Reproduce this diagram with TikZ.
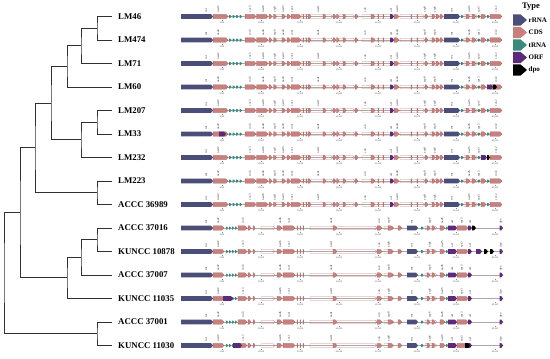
\documentclass[tikz,border=0pt]{standalone}
\usepackage{fontspec}
\setmainfont{Liberation Serif}
\definecolor{rrnaC}{HTML}{4A4E78}
\definecolor{cdsC}{HTML}{C97F7C}
\definecolor{trnaC}{HTML}{3A8A7C}
\definecolor{orfC}{HTML}{5B2A7A}
\definecolor{treeC}{HTML}{303030}
\definecolor{baseC}{HTML}{A8A8A8}
\tikzset{
  fR/.style={fill=rrnaC},
  fC/.style={fill=cdsC, draw=cdsC!75!black, line width=0.15pt},
  fT/.style={fill=trnaC},
  fO/.style={fill=orfC},
  fD/.style={fill=black},
  fI/.style={draw=cdsC, line width=0.3pt},
  branch/.style={draw=treeC, line width=0.9pt},
  leaflab/.style={anchor=west, inner sep=0pt, font=\fontsize{8.8}{10}\selectfont\bfseries},
  glabel/.style={rotate=90, anchor=west, inner sep=0pt, font=\fontsize{3}{3.2}\selectfont, text=black!85},
  ticklab/.style={inner sep=0pt, font=\fontsize{2.3}{2.5}\selectfont, text=black!70},
  leglab/.style={anchor=west, inner sep=0pt, font=\fontsize{7}{8}\selectfont\bfseries},
}
\def\hR{2.4}\def\hC{2.2}\def\hT{1.5}\def\hO{2.4}\def\hD{2.4}\def\hI{1.8}
\newcommand\drawfeats[1]{%
  \foreach \t/\a/\b in #1 {%
    \pgfmathsetmacro\tp{min(2,0.5*(\b-\a))}%
    \pgfmathsetmacro\hh{\csname h\t\endcsname}%
    \path[f\t] (\a,-\hh) -- ({\b-\tp},-\hh) -- (\b,0) -- ({\b-\tp},\hh) -- (\a,\hh) -- cycle;
  }}
\def\featA{R/0/32, C/32/47, T/48/50.5, T/51.5/54, T/55/57.5, T/58.5/61, C/64/75, C/75.5/87, C/88/91, C/92.5/95.5, I/95/105, C/101/104, C/106/109.5, C/110/120, I/120/152, C/122/123, C/125/126, C/127/130, C/142/145, C/152/155, C/155.5/158, I/158/174, C/162/165, C/174/177, I/181/211, C/190/194, C/197/198, C/202/203, O/209/213, C/213/218, I/219/244, C/230/231, C/236/237, C/244/247, I/249/259, C/251/254, C/255/258, C/259/262, R/263/279, T/280/282.5, I/283/297, C/285/289, C/291/295, T/297/299.5, C/300/305, T/306/308.5, C/309/321}
\def\labA{25/rnl, 37/nad2, 69/cox3, 82/nad6, 94/atp9, 102/nad3, 111/cox1, 137/nad1, 184/cob, 210/orf, 216/nad4, 244/atp8, 254/atp6, 271/rns, 288/nad5, 298/rps3, 315/cox2}
\def\featB{R/0/32, C/32/43, T/45/47, T/48/50, T/51/53, T/54/56, C/57/66, C/67/70, C/72/74, I/80/94, C/96/101, C/102/114, C/116/117, C/119/120, C/122/123, I/129/196, C/152/156, C/196/201, I/203/213, C/207/212, C/217/221, R/226/237, T/240/242.5, I/244/256, C/246/249, C/251/254, C/259/264, T/265/267, O/267/276, C/276/287, O/287/291, O/318.5/322}
\def\labB{25/rnl, 37/nad2, 62/cox3, 99/nad6, 108/cox1, 150/nad1, 198/cob, 208/atp8, 231/rns, 249/atp6, 261/nad5, 271/orf, 281/rps3, 289/orf, 320/dpo}
\newcommand\generow[5]{% id, y, features, labels, length
  \begin{scope}[shift={(181,#2)}]
    \draw[baseC, line width=0.7pt] (0,0) -- (#5,0);
    \drawfeats{#3}
    \foreach \p/\n [count=\k] in #4 {\node[glabel] (r#1g\k) at (\p,-4.2) {\n};}
    \foreach \k/\lab in {0/5000, 1/10{,}000, 2/15{,}000, 3/20{,}000, 4/25{,}000, 5/30{,}000, 6/35{,}000, 7/40{,}000} {
      \draw[black!45, line width=0.2pt] ({41+39*\k},3.6) -- ({41+39*\k},4.6);
      \node[ticklab] (r#1t\k) at ({41+39*\k},6.6) {\lab};
    }
  \end{scope}}
\newcommand\extras[2]{\begin{scope}[shift={(181,#1)}]\drawfeats{#2}\end{scope}}
\begin{document}
\begin{tikzpicture}[x=1pt,y=-1pt]
\useasboundingbox (0,0) rectangle (550,359);
% leaves
\foreach \i/\nm in {0/LM46, 1/LM474, 2/LM71, 3/LM60, 4/LM207, 5/LM33, 6/LM232, 7/LM223, 8/ACCC 36989, 9/ACCC 37016, 10/KUNCC 10878, 11/ACCC 37007, 12/KUNCC 11035, 13/ACCC 37001, 14/KUNCC 11030}{
  \coordinate (l\i) at (112,{16.5+23.5*\i});
  \node[leaflab] (name\i) at (118,{16.5+23.5*\i}) {\nm};
}
% internal nodes
\coordinate (n1) at (97,28.25);
\coordinate (n2) at (81,45.9);
\coordinate (n3) at (67,66.4);
\coordinate (n4) at (97,122.25);
\coordinate (n5) at (81,139.9);
\coordinate (n6) at (51,103.1);
\coordinate (n7) at (97,192.75);
\coordinate (n8) at (35,147.9);
\coordinate (n9) at (97,239.75);
\coordinate (n10) at (81,257.4);
\coordinate (n11) at (67,277.9);
\coordinate (n12) at (20,212.9);
\coordinate (n13) at (97,333.75);
\coordinate (root) at (4,273.3);
\draw[branch] (l0) -| (n1) |- (l1);
\draw[branch] (n1) -| (n2) |- (l2);
\draw[branch] (n2) -| (n3) |- (l3);
\draw[branch] (l4) -| (n4) |- (l5);
\draw[branch] (n4) -| (n5) |- (l6);
\draw[branch] (n3) -| (n6) |- (n5);
\draw[branch] (l7) -| (n7) |- (l8);
\draw[branch] (n6) -| (n8) |- (n7);
\draw[branch] (l9) -| (n9) |- (l10);
\draw[branch] (n9) -| (n10) |- (l11);
\draw[branch] (n10) -| (n11) |- (l12);
\draw[branch] (n8) -| (n12) |- (n11);
\draw[branch] (l13) -| (n13) |- (l14);
\draw[branch] (n12) -| (root) |- (n13);
% genome tracks
\generow{1}{16.5}{\featA}{\labA}{321}
\generow{2}{40}{\featA}{\labA}{321}
\generow{3}{63.5}{\featA}{\labA}{321}
\generow{4}{87}{\featA}{\labA}{321}
\extras{87}{{O/306/312, D/312/316}}
\generow{5}{110.5}{\featA}{\labA}{321}
\generow{6}{134}{\featA}{\labA}{321}
\extras{134}{{O/38/45}}
\generow{7}{157.5}{\featA}{\labA}{321}
\extras{157.5}{{O/300/306, D/306/309}}
\generow{8}{181}{\featA}{\labA}{321}
\generow{9}{204.5}{\featA}{\labA}{321}
\generow{10}{228}{\featB}{\labB}{322}
\extras{228}{{D/291/295}}
\generow{11}{251.5}{\featB}{\labB}{322}
\extras{251.5}{{O/295/301, D/303/307, D/309/313}}
\generow{12}{275}{\featB}{\labB}{322}
\generow{13}{298.5}{\featB}{\labB}{322}
\extras{298.5}{{O/42/52}}
\generow{14}{322}{\featB}{\labB}{322}
\generow{15}{345.5}{\featB}{\labB}{322}
\extras{345.5}{{O/52/61, D/284/289}}
% legend
\node[inner sep=0pt, font=\fontsize{8.5}{9}\selectfont\bfseries] (legtitle) at (531,6.5) {Type};
\foreach \y/\c/\lab [count=\k] in {20/rrnaC/rRNA, 32.5/cdsC/CDS, 45/trnaC/tRNA, 57.5/orfC/ORF, 70/black/dpo}{
  \fill[\c] (513,\y-5.6) -- (520.5,\y-5.6) -- (527,\y) -- (520.5,\y+5.6) -- (513,\y+5.6) -- cycle;
  \node[leglab] (leg\k) at (528.5,\y) {\lab};
}
\end{tikzpicture}
\end{document}
